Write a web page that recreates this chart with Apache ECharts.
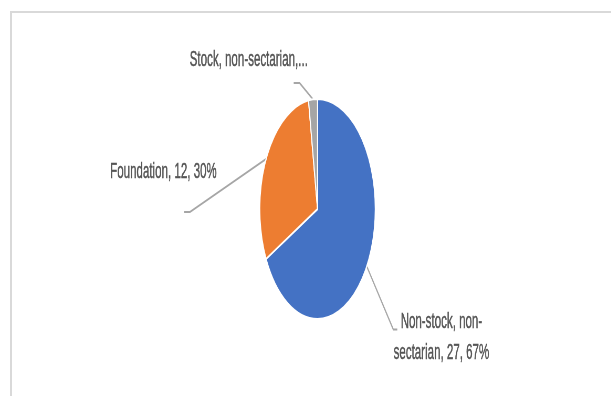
<!DOCTYPE html>
<html>
<head>
<meta charset="utf-8">
<script src="https://cdn.jsdelivr.net/npm/echarts@6/dist/echarts.min.js"></script>
<style>
  html, body { margin: 0; padding: 0; background: #ffffff; overflow: hidden; }
  #stage { position: relative; width: 611px; height: 396px; overflow: hidden; background: #fff; }
  #frame { position: absolute; left: 10px; top: 11px; width: 700px; height: 500px;
           border: 2px solid #d9d9d9; box-sizing: border-box; }
  /* the chart is laid out wide and compressed horizontally, giving the oval pie */
  #chart { position: absolute; left: 0; top: 0; width: 1164px; height: 396px;
           transform: scaleX(0.525); transform-origin: 0 0; }
</style>
</head>
<body>
<div id="stage">
  <div id="frame"></div>
  <div id="chart"></div>
</div>
<script>
// School ownership types: count of schools and share of total
const categories = ['Non-stock, non-\nsectarian', 'Foundation', 'Stock, non-sectarian'];
const counts = [27, 12, 1];
const shareLabels = ['67%', '30%', '3%'];
const colors = ['#4472C4', '#ED7D31', '#A5A5A5'];

// leader line bends and label anchors, relative to where each line leaves the pie
const leaderStyle = [
  { knee: [50.5, 63], tail: 7.7, label: [84, 8], align: 'center' },
  { knee: [-145, 53], tail: -11.4, label: [-39, -40], align: 'center' },
  { knee: [-25.4, -16.3], tail: -11.4, label: [27, -23], align: 'right' }
];

const center = [604.8, 209];
const radius = 110;

const chart = echarts.init(document.getElementById('chart'), null, { renderer: 'canvas' });

const total = counts.reduce((a, b) => a + b, 0);
// mid angle of each slice, clockwise from 12 o'clock
const midAngles = [];
let acc = 0;
counts.forEach(v => {
  midAngles.push((acc + v / 2) / total * Math.PI * 2);
  acc += v;
});

function edgePoint(i) {
  const a = midAngles[i];
  return [center[0] + Math.sin(a) * radius, center[1] - Math.cos(a) * radius];
}

chart.setOption({
  animation: false,
  backgroundColor: 'transparent',
  series: [{
    type: 'pie',
    center: center,
    radius: radius,
    startAngle: 90,
    clockwise: true,
    avoidLabelOverlap: false,
    data: categories.map((name, i) => ({
      name: name,
      value: counts[i],
      itemStyle: { color: colors[i] }
    })),
    itemStyle: { borderColor: '#ffffff', borderWidth: 2 },
    label: {
      show: true,
      position: 'outside',
      fontFamily: 'Liberation Sans, Arial, sans-serif',
      fontSize: 22,
      lineHeight: 31,
      color: '#555555',
      textBorderColor: '#555555',
      textBorderWidth: 0.5,
      formatter: p => {
        if (p.dataIndex === 2) return p.name + ',...';
        return p.name + ', ' + p.value + ', ' + shareLabels[p.dataIndex];
      }
    },
    labelLine: {
      show: true,
      smooth: false,
      lineStyle: { color: '#A6A6A6', width: 2 }
    },
    labelLayout: params => {
      const i = params.dataIndex;
      const s = leaderStyle[i];
      const start = edgePoint(i);
      const knee = [start[0] + s.knee[0], start[1] + s.knee[1]];
      const end = [knee[0] + s.tail, knee[1]];
      return {
        x: end[0] + s.label[0],
        y: end[1] + s.label[1],
        align: s.align,
        verticalAlign: 'middle',
        labelLinePoints: [start, knee, end]
      };
    },
    emphasis: { disabled: true }
  }]
});
</script>
</body>
</html>
